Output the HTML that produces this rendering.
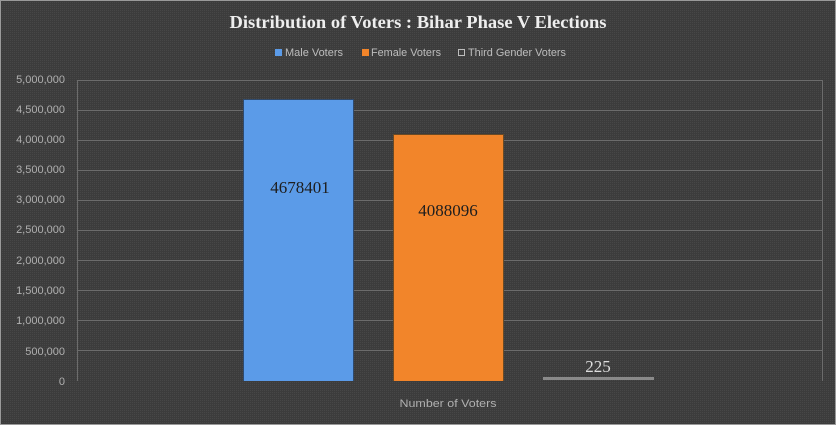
<!DOCTYPE html>
<html><head><meta charset="utf-8"><style>
html,body{margin:0;padding:0;background:#3a3a3a;}
svg{display:block;}
</style></head><body>
<svg width="836" height="425" xmlns="http://www.w3.org/2000/svg">
<defs>
<pattern id="dith" width="2" height="2" patternUnits="userSpaceOnUse">
<rect width="2" height="2" fill="#3c3c3c"/>
<rect width="1" height="1" fill="#474747"/>
</pattern>
</defs>
<rect x="0" y="0" width="836" height="425" fill="url(#dith)"/>
<rect x="0.5" y="0.5" width="835" height="424" fill="none" stroke="#9a9a9a" stroke-width="1"/>
<!-- title -->
<text x="418" y="28" text-anchor="middle" font-family="Liberation Serif, serif" font-weight="bold" font-size="18" fill="#eeeeee" textLength="377" lengthAdjust="spacingAndGlyphs">Distribution of Voters : Bihar Phase V Elections</text>
<!-- legend -->
<rect x="275" y="49" width="7" height="7" fill="#5b9be8"/>
<text x="285" y="56" font-family="Liberation Sans, sans-serif" font-size="11" fill="#bdbdbd" textLength="58" lengthAdjust="spacingAndGlyphs">Male Voters</text>
<rect x="362" y="49" width="7" height="7" fill="#f2852a"/>
<text x="371" y="56" font-family="Liberation Sans, sans-serif" font-size="11" fill="#bdbdbd" textLength="70" lengthAdjust="spacingAndGlyphs">Female Voters</text>
<rect x="458.5" y="49.5" width="6" height="6" fill="none" stroke="#bdbdbd" stroke-width="1"/>
<text x="468" y="56" font-family="Liberation Sans, sans-serif" font-size="11" fill="#bdbdbd" textLength="98" lengthAdjust="spacingAndGlyphs">Third Gender Voters</text>
<!-- gridlines -->
<g stroke="#6c6c6c" stroke-width="1">
<line x1="77" y1="80.5" x2="822" y2="80.5"/>
<line x1="77" y1="110.5" x2="822" y2="110.5"/>
<line x1="77" y1="140.5" x2="822" y2="140.5"/>
<line x1="77" y1="170.5" x2="822" y2="170.5"/>
<line x1="77" y1="200.5" x2="822" y2="200.5"/>
<line x1="77" y1="230.5" x2="822" y2="230.5"/>
<line x1="77" y1="260.5" x2="822" y2="260.5"/>
<line x1="77" y1="290.5" x2="822" y2="290.5"/>
<line x1="77" y1="320.5" x2="822" y2="320.5"/>
<line x1="77" y1="350.5" x2="822" y2="350.5"/>
<line x1="77.5" y1="80" x2="77.5" y2="381"/>
<line x1="822.5" y1="80" x2="822.5" y2="381"/>
</g>
<!-- y labels -->
<g font-family="Liberation Sans, sans-serif" font-size="11" fill="#b0b0b0" text-anchor="end">
<text x="65" y="83">5,000,000</text>
<text x="65" y="113">4,500,000</text>
<text x="65" y="143">4,000,000</text>
<text x="65" y="173">3,500,000</text>
<text x="65" y="203">3,000,000</text>
<text x="65" y="233">2,500,000</text>
<text x="65" y="264">2,000,000</text>
<text x="65" y="294">1,500,000</text>
<text x="65" y="324">1,000,000</text>
<text x="65" y="355">500,000</text>
<text x="65" y="385">0</text>
</g>
<!-- bars -->
<rect x="243" y="99" width="111" height="282" fill="#2e4a6e"/>
<rect x="244" y="100" width="109" height="281" fill="#5b9be8"/>
<rect x="393" y="134" width="111" height="247" fill="#6a4a25"/>
<rect x="394" y="135" width="109" height="246" fill="#f2852a"/>
<rect x="543" y="377" width="111" height="3" fill="#8a8a8a"/>
<!-- data labels -->
<text x="300" y="193" text-anchor="middle" font-family="Liberation Serif, serif" font-size="17" fill="#1e1e1e">4678401</text>
<text x="448" y="216" text-anchor="middle" font-family="Liberation Serif, serif" font-size="17" fill="#1e1e1e">4088096</text>
<text x="598" y="372" text-anchor="middle" font-family="Liberation Serif, serif" font-size="17" fill="#dddddd">225</text>
<!-- x axis title -->
<text x="448" y="407" text-anchor="middle" font-family="Liberation Sans, sans-serif" font-size="11" fill="#b0b0b0" textLength="97" lengthAdjust="spacingAndGlyphs">Number of Voters</text>
</svg>
</body></html>
